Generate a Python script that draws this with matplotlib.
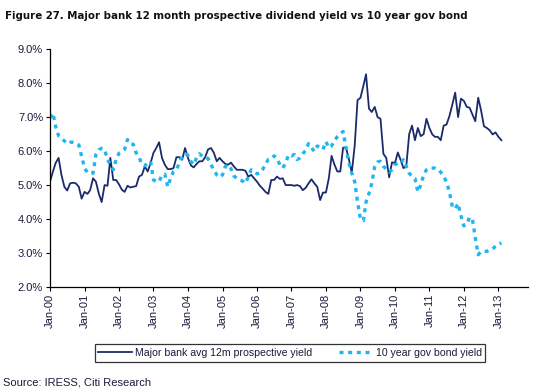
import numpy as np
import pandas as pd
import matplotlib
matplotlib.use("Agg")
import matplotlib.pyplot as plt
from matplotlib import font_manager

plt.rcParams['font.family'] = ['Liberation Sans', 'DejaVu Sans']

# monthly, Jan 2000 - Feb 2013 (values in %)
bank = [5.10, 5.40, 5.65, 5.80, 5.30, 4.95, 4.84, 5.05, 5.07, 5.05, 4.95, 4.60,
        4.80, 4.74, 4.85, 5.20, 5.10, 4.75, 4.50, 5.00, 4.98, 5.80, 5.15, 5.15,
        5.02, 4.86, 4.80, 4.98, 4.93, 4.95, 4.97, 5.25, 5.30, 5.55, 5.40, 5.65,
        5.95, 6.10, 6.26, 5.80, 5.60, 5.47, 5.47, 5.50, 5.82, 5.82, 5.75, 6.09,
        5.80, 5.58, 5.52, 5.62, 5.70, 5.70, 5.82, 6.05, 6.09, 5.95, 5.70, 5.80,
        5.70, 5.62, 5.60, 5.66, 5.55, 5.45, 5.45, 5.45, 5.42, 5.25, 5.30, 5.20,
        5.10, 4.98, 4.90, 4.80, 4.74, 5.15, 5.15, 5.25, 5.18, 5.20, 5.00, 5.00,
        5.00, 4.98, 5.00, 4.97, 4.85, 4.92, 5.05, 5.17, 5.05, 4.95, 4.56, 4.78,
        4.78, 5.20, 5.86, 5.60, 5.40, 5.40, 6.10, 6.10, 5.75, 5.37, 6.16, 7.50,
        7.57, 7.92, 8.26, 7.25, 7.15, 7.30, 7.00, 6.95, 5.92, 5.80, 5.23, 5.67,
        5.65, 5.96, 5.75, 5.50, 5.55, 6.50, 6.75, 6.32, 6.68, 6.44, 6.50, 6.95,
        6.68, 6.49, 6.42, 6.42, 6.32, 6.75, 6.78, 7.03, 7.37, 7.72, 7.00, 7.54,
        7.48, 7.30, 7.28, 7.08, 6.88, 7.57, 7.20, 6.73, 6.68, 6.61, 6.49, 6.55,
        6.42, 6.32]

bond = [6.98, 7.12, 6.72, 6.45, 6.38, 6.30, 6.22, 6.26, 6.26, 6.24, 6.18, 5.84,
        5.50, 5.37, 5.34, 5.35, 5.90, 6.04, 6.08, 6.05, 5.75, 5.60, 5.45, 5.75,
        5.94, 6.00, 6.05, 6.34, 6.22, 6.20, 5.95, 5.82, 5.60, 5.57, 5.65, 5.70,
        5.15, 5.10, 5.10, 5.30, 5.32, 4.95, 5.20, 5.40, 5.45, 5.65, 5.85, 5.92,
        5.88, 5.70, 5.60, 5.80, 5.92, 5.85, 5.84, 5.78, 5.60, 5.45, 5.30, 5.23,
        5.30, 5.55, 5.60, 5.48, 5.27, 5.20, 5.15, 5.12, 5.05, 5.25, 5.45, 5.40,
        5.33, 5.35, 5.45, 5.62, 5.75, 5.77, 5.86, 5.78, 5.60, 5.50, 5.65, 5.89,
        5.86, 5.90, 5.75, 5.80, 5.92, 6.02, 6.22, 6.10, 5.99, 6.15, 6.12, 6.05,
        6.28, 6.10, 6.15, 6.32, 6.42, 6.50, 6.58, 6.10, 5.65, 5.35, 5.10, 4.50,
        4.00, 3.95, 4.50, 4.75, 5.05, 5.55, 5.68, 5.70, 5.55, 5.48, 5.38, 5.45,
        5.60, 5.65, 5.63, 5.75, 5.55, 5.35, 5.25, 5.20, 4.80, 5.00, 5.30, 5.45,
        5.50, 5.50, 5.50, 5.47, 5.38, 5.25, 5.10, 4.80, 4.36, 4.30, 4.46, 4.10,
        3.80, 3.85, 4.05, 4.00, 3.45, 2.95, 3.05, 3.05, 3.05, 3.10, 3.12, 3.20,
        3.26, 3.30]

dates = pd.date_range('2000-01-01', periods=len(bank), freq='MS')
years = pd.date_range('2000-01-01', '2013-01-01', freq='YS')

# condensed face if the system has one
cond = [f.name for f in font_manager.fontManager.ttflist if 'ondensed' in f.fname or 'Narrow' in f.name]
title_font = dict(family=['DejaVu Sans'], stretch='condensed') if cond else dict(family=['Liberation Sans'])

fig = plt.figure(figsize=(5.4, 3.9), dpi=100)
ax = fig.add_axes([0.0926, 0.264, 0.886, 0.61])

navy = '#1b2a6b'
sky = '#1fb6f0'
txt = '#1a1a3a'

ax.plot(dates, bank, color=navy, lw=1.3, label='Major bank avg 12m prospective yield')
ax.plot(dates, bond, color=sky, lw=2.4, linestyle=(0, (1.2, 1.4)),
        label='10 year gov bond yield')

ax.set_ylim(2, 9)
ax.set_yticks(np.arange(2, 9.01, 1))
ax.set_yticklabels(['%.1f%%' % v for v in np.arange(2, 9.01, 1)], fontsize=8, color=txt)
ax.set_xlim(pd.Timestamp('2000-01-01'), pd.Timestamp('2013-11-15'))
ax.set_xticks(years)
ax.set_xticklabels([d.strftime('%b-%y') for d in years], rotation=90, fontsize=8, color=txt)

for s in ['top', 'right']:
    ax.spines[s].set_visible(False)
for s in ['left', 'bottom']:
    ax.spines[s].set_color('black')
    ax.spines[s].set_linewidth(0.9)
ax.tick_params(direction='out', length=3, width=0.8, pad=2)

leg = fig.legend(loc='center', bbox_to_anchor=(0.537, 0.095), ncol=2, fontsize=7.6,
                 frameon=True, fancybox=False, edgecolor='black', handlelength=3.2,
                 columnspacing=2.5, borderpad=0.35, handletextpad=0.3)
leg.get_frame().set_linewidth(0.9)
for t in leg.get_texts():
    t.set_color(txt)

fig.text(0.01, 0.96, 'Figure 27. Major bank 12 month prospective dividend yield vs 10 year gov bond',
         fontsize=8.2, fontweight='bold', color='#111111', va='center', **title_font)
fig.text(0.005, 0.018, 'Source: IRESS, Citi Research', fontsize=8, color=txt, va='center')

fig.savefig('out.png', dpi=100)
